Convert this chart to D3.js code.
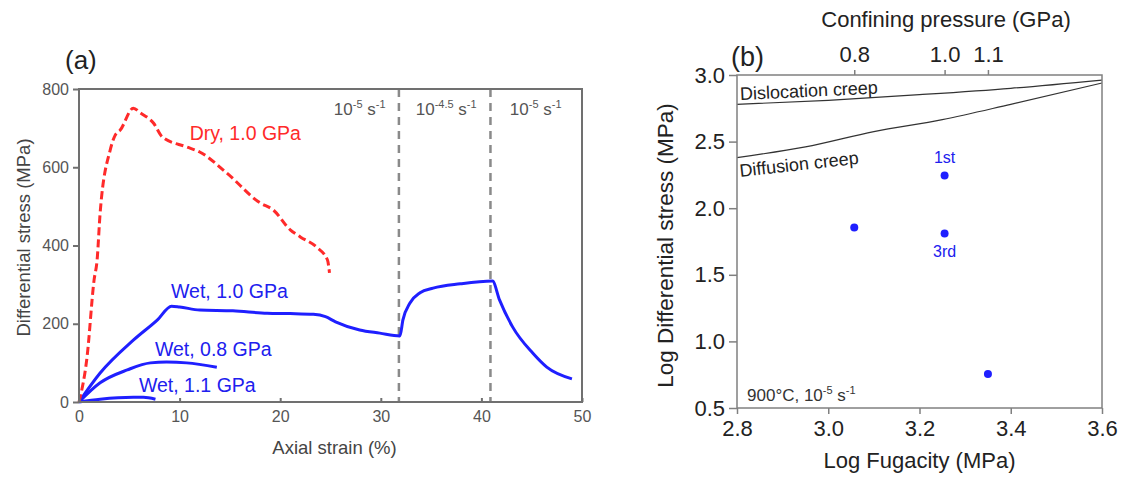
<!DOCTYPE html>
<html>
<head>
<meta charset="utf-8">
<script src="https://cdn.jsdelivr.net/npm/d3@7"></script>
<style>
  html, body { margin: 0; padding: 0; background: #fff; }
  svg { display: block; font-family: "Liberation Sans", Arial, Helvetica, sans-serif; }
</style>
</head>
<body>
<svg id="chart" width="1127" height="477"></svg>
<script>
// ---- Panel (a): stress–strain curves ----
const dryStrain = [0, 0.8, 1.5, 1.8, 2.1, 3.1, 3.6, 4.1, 5.4, 6.1, 7.4, 8.3, 10.7, 12.0, 14.7, 18.0, 19.3, 21.0, 22.0, 23.7, 24.7, 24.9];
const dryStress = [0, 115, 312, 363, 483, 644, 682, 695, 751, 739, 713, 677, 652, 639, 585, 509, 491, 440, 422, 394, 363, 330];

const wet10Strain = [0, 2.1, 5.4, 7.8, 9.2, 10.0, 12.0, 15.3, 18.7, 21.0, 23.3, 24.5, 25.5, 27.9, 29.9, 31.9, 32.2, 32.9, 33.9, 35.2, 37.9, 41.1, 41.8, 43.1, 45.1, 46.5, 49.0];
const wet10Stress = [0, 74, 158, 210, 245, 243, 235, 233, 227, 226, 224, 218, 205, 184, 176, 169, 210, 253, 279, 291, 302, 309, 261, 192, 125, 89, 59];

const wet08Strain = [0, 2.1, 4.8, 7.1, 8.7, 10.7, 13.7];
const wet08Stress = [0, 49, 82, 100, 102, 100, 89];

const wet11Strain = [0, 2.1, 5.4, 6.4, 7.6];
const wet11Stress = [0, 7, 12, 12, 7];

const strainTicks = [0, 10, 20, 30, 40, 50];
const stressTicks = [0, 200, 400, 600, 800];
const rateChanges = [31.8, 40.9];
const rateLabels = [
  { x: 27.9, base: "10", exp: "-5" },
  { x: 36.5, base: "10", exp: "-4.5" },
  { x: 45.4, base: "10", exp: "-5" }
];
const curveLabels = [
  { text: "Dry, 1.0 GPa", x: 11.0, y: 670, color: "#ff2a2a" },
  { text: "Wet, 1.0 GPa", x: 9.15, y: 266, color: "#2020ee" },
  { text: "Wet, 0.8 GPa", x: 7.55, y: 118, color: "#2020ee" },
  { text: "Wet, 1.1 GPa", x: 5.96, y: 26, color: "#2020ee" }
];

// ---- Panel (b): log stress vs log fugacity ----
const fugacity = [3.057, 3.255, 3.255, 3.35];
const logStress = [1.855, 2.245, 1.81, 0.755];
const pointNotes = [
  { text: "1st", x: 3.255, y: 2.338 },
  { text: "3rd", x: 3.255, y: 1.632 }
];
const fugacityTicks = [2.8, 3.0, 3.2, 3.4, 3.6];
const logStressTicks = [0.5, 1.0, 1.5, 2.0, 2.5, 3.0];
const pressureLabels = ["0.8", "1.0", "1.1"];
const pressureFugacity = [3.057, 3.255, 3.35];

const dislocationX = [2.8, 3.0, 3.2, 3.4, 3.6];
const dislocationY = [2.78, 2.81, 2.852, 2.90, 2.962];
const diffusionX = [2.8, 2.95, 3.1, 3.25, 3.4, 3.6];
const diffusionY = [2.38, 2.46, 2.575, 2.665, 2.78, 2.94];

const svg = d3.select("#chart");
const zip = (xs, ys) => xs.map((v, i) => [v, ys[i]]);

// ================= Panel (a) =================
const A = { left: 79, right: 582, top: 89, bottom: 402 };
const xa = d3.scaleLinear().domain([0, 50]).range([A.left, A.right]);
const ya = d3.scaleLinear().domain([0, 800]).range([A.bottom, A.top]);
const ga = svg.append("g");

// strain-rate change markers
ga.selectAll("line.rate").data(rateChanges).join("line")
  .attr("x1", d => xa(d)).attr("x2", d => xa(d))
  .attr("y1", A.top).attr("y2", A.bottom)
  .attr("stroke", "#8a8a8a").attr("stroke-width", 2.5)
  .attr("stroke-dasharray", "8,6");

const lineA = d3.line().x(d => xa(d[0])).y(d => ya(d[1])).curve(d3.curveMonotoneX);

ga.append("path").datum(zip(wet11Strain, wet11Stress))
  .attr("d", lineA).attr("fill", "none").attr("stroke", "#1f1fff").attr("stroke-width", 3);
ga.append("path").datum(zip(wet08Strain, wet08Stress))
  .attr("d", lineA).attr("fill", "none").attr("stroke", "#1f1fff").attr("stroke-width", 3);
ga.append("path").datum(zip(wet10Strain, wet10Stress))
  .attr("d", lineA).attr("fill", "none").attr("stroke", "#1f1fff").attr("stroke-width", 3);
ga.append("path").datum(zip(dryStrain, dryStress))
  .attr("d", lineA).attr("fill", "none").attr("stroke", "#ff2a2a").attr("stroke-width", 3)
  .attr("stroke-dasharray", "8,4");

// frame
ga.append("rect").attr("x", A.left).attr("y", A.top)
  .attr("width", A.right - A.left).attr("height", A.bottom - A.top)
  .attr("fill", "none").attr("stroke", "#707070").attr("stroke-width", 2);

// axes
const axA_left = ga.append("g").attr("transform", `translate(${A.left},0)`)
  .call(d3.axisLeft(ya).tickValues(stressTicks).tickSize(6).tickPadding(4));
const axA_bottom = ga.append("g").attr("transform", `translate(0,${A.bottom})`)
  .call(d3.axisBottom(xa).tickValues(strainTicks).tickSize(-4).tickPadding(9));
[axA_left, axA_bottom].forEach(g => {
  g.select(".domain").remove();
  g.selectAll(".tick line").attr("stroke", "#707070").attr("stroke-width", 2);
  g.selectAll(".tick text").attr("fill", "#555").style("font-size", "16px")
    .style("font-family", "'Liberation Sans', Arial, sans-serif");
});

ga.append("text")
  .attr("transform", `translate(24,${(A.top + A.bottom) / 2 - 8}) rotate(-90)`)
  .attr("text-anchor", "middle").attr("dy", "0.35em")
  .attr("fill", "#444").style("font-size", "18.5px")
  .text("Differential stress (MPa)");
ga.append("text")
  .attr("x", (A.left + A.right) / 2 + 4).attr("y", 454)
  .attr("text-anchor", "middle").attr("fill", "#444").style("font-size", "18.5px")
  .text("Axial strain (%)");
ga.append("text").attr("x", 65).attr("y", 69)
  .attr("fill", "#222").style("font-size", "26px").text("(a)");

// curve labels
ga.selectAll("text.curve").data(curveLabels).join("text")
  .attr("x", d => xa(d.x)).attr("y", d => ya(d.y))
  .attr("fill", d => d.color).style("font-size", "19.5px")
  .text(d => d.text);

// strain-rate labels
const rl = ga.selectAll("text.rate").data(rateLabels).join("text")
  .attr("x", d => xa(d.x)).attr("y", 115)
  .attr("text-anchor", "middle").attr("fill", "#555").style("font-size", "17px");
rl.append("tspan").text(d => d.base);
rl.append("tspan").attr("dy", -7).style("font-size", "11px").text(d => d.exp);
rl.append("tspan").attr("dy", 7).text(" s");
rl.append("tspan").attr("dy", -7).style("font-size", "11px").text("-1");

// ================= Panel (b) =================
const B = { left: 737, right: 1102, top: 75, bottom: 408 };
const xb = d3.scaleLinear().domain([2.8, 3.6]).range([B.left, B.right]);
const yb = d3.scaleLinear().domain([0.5, 3.0]).range([B.bottom, B.top]);
const gb = svg.append("g");

const lineB = d3.line().x(d => xb(d[0])).y(d => yb(d[1])).curve(d3.curveMonotoneX);
gb.append("path").datum(zip(dislocationX, dislocationY))
  .attr("d", lineB).attr("fill", "none").attr("stroke", "#333").attr("stroke-width", 1.2);
gb.append("path").datum(zip(diffusionX, diffusionY))
  .attr("d", lineB).attr("fill", "none").attr("stroke", "#333").attr("stroke-width", 1.2);

gb.append("rect").attr("x", B.left).attr("y", B.top)
  .attr("width", B.right - B.left).attr("height", B.bottom - B.top)
  .attr("fill", "none").attr("stroke", "#808080").attr("stroke-width", 1.5);

gb.selectAll("circle").data(zip(fugacity, logStress)).join("circle")
  .attr("cx", d => xb(d[0])).attr("cy", d => yb(d[1])).attr("r", 4)
  .attr("fill", "#1f1fff");

const axB_left = gb.append("g").attr("transform", `translate(${B.left},0)`)
  .call(d3.axisLeft(yb).tickValues(logStressTicks).tickFormat(d3.format(".1f")).tickSize(8).tickPadding(4));
const axB_bottom = gb.append("g").attr("transform", `translate(0,${B.bottom})`)
  .call(d3.axisBottom(xb).tickValues(fugacityTicks).tickFormat(d3.format(".1f")).tickSize(6).tickPadding(6));
const axB_top = gb.append("g").attr("transform", `translate(0,${B.top})`)
  .call(d3.axisTop(xb).tickValues(pressureFugacity)
    .tickFormat((d, i) => pressureLabels[i]).tickSize(5).tickPadding(8));
[axB_left, axB_bottom, axB_top].forEach(g => {
  g.select(".domain").remove();
  g.selectAll(".tick line").attr("stroke", "#808080").attr("stroke-width", 1.5);
  g.selectAll(".tick text").attr("fill", "#222").style("font-size", "22px")
    .style("font-family", "'Liberation Sans', Arial, sans-serif");
});

gb.append("text")
  .attr("transform", `translate(665,${(B.top + B.bottom) / 2 + 4}) rotate(-90)`)
  .attr("text-anchor", "middle").attr("dy", "0.35em")
  .attr("fill", "#222").style("font-size", "22.5px")
  .text("Log Differential stress (MPa)");
gb.append("text")
  .attr("x", (B.left + B.right) / 2).attr("y", 468)
  .attr("text-anchor", "middle").attr("fill", "#222").style("font-size", "22px")
  .text("Log Fugacity (MPa)");
gb.append("text")
  .attr("x", 946).attr("y", 27)
  .attr("text-anchor", "middle").attr("fill", "#222").style("font-size", "22px")
  .text("Confining pressure (GPa)");
gb.append("text").attr("x", 731).attr("y", 66)
  .attr("fill", "#222").style("font-size", "27px").text("(b)");

// regime labels
gb.append("text")
  .attr("transform", `translate(${xb(2.807)},${yb(2.812)}) rotate(-2.7)`)
  .attr("fill", "#222").style("font-size", "18px").text("Dislocation creep");
gb.append("text")
  .attr("transform", `translate(${xb(2.807)},${yb(2.235)}) rotate(-6.3)`)
  .attr("fill", "#222").style("font-size", "18px").text("Diffusion creep");

gb.selectAll("text.note").data(pointNotes).join("text")
  .attr("x", d => xb(d.x)).attr("y", d => yb(d.y))
  .attr("text-anchor", "middle").attr("fill", "#2020ee").style("font-size", "16px")
  .text(d => d.text);

const cond = gb.append("text").attr("x", xb(2.822)).attr("y", yb(0.556))
  .attr("fill", "#333").style("font-size", "17px");
cond.append("tspan").text("900°C, 10");
cond.append("tspan").attr("dy", -7).style("font-size", "11px").text("-5");
cond.append("tspan").attr("dy", 7).text(" s");
cond.append("tspan").attr("dy", -7).style("font-size", "11px").text("-1");
</script>
</body>
</html>
